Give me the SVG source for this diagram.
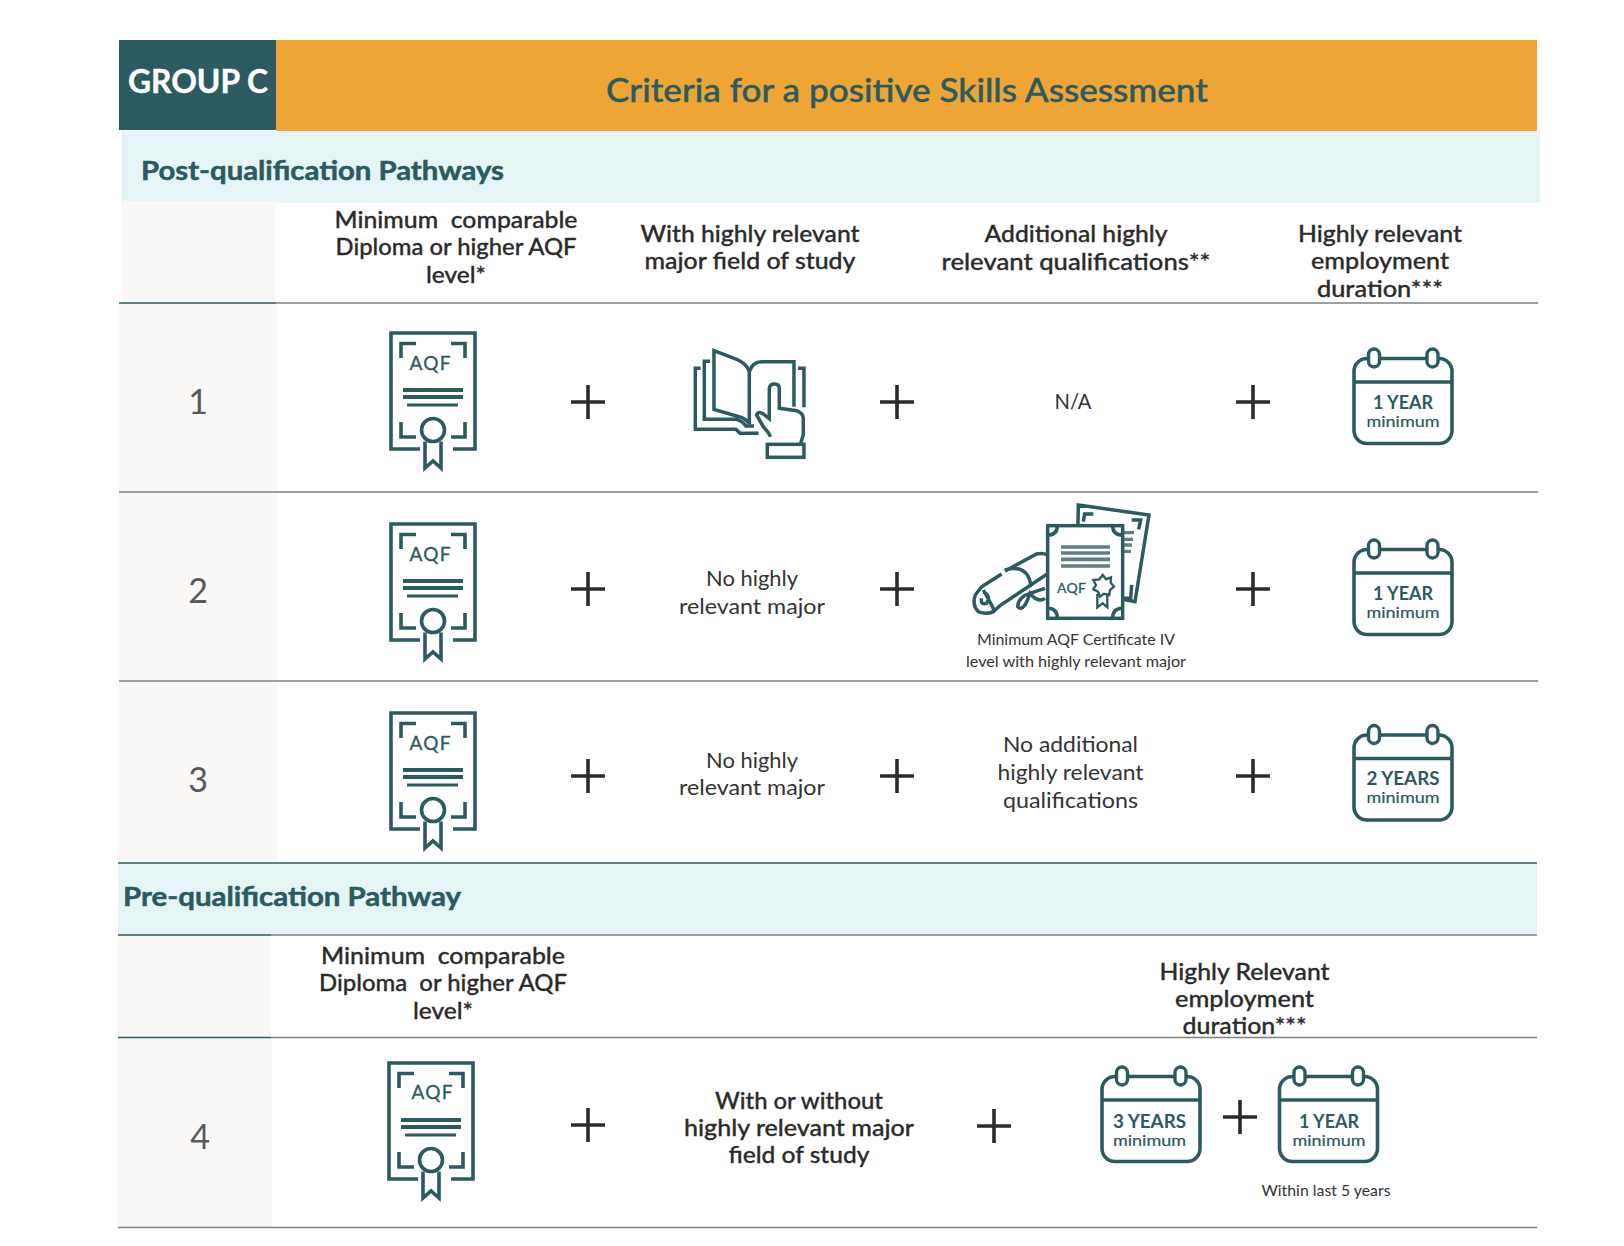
<svg xmlns="http://www.w3.org/2000/svg" width="1624" height="1246" viewBox="0 0 1624 1246">
<style>
text{font-family:"Lato","Open Sans","Liberation Sans",sans-serif;text-anchor:middle}
.l{text-anchor:start}
.sec{font-size:27px;font-weight:700;fill:#2b5a60;stroke:#2b5a60;stroke-width:.5}
.h{font-size:23px;font-weight:500;fill:#2b2b2b;stroke:#2b2b2b;stroke-width:.3}
.b{font-size:21px;fill:#333}
.s{font-size:15px;fill:#333}
.n{font-size:34px;fill:#58595b}
.aqf{font-size:19px;fill:#2b5a60;stroke:#2b5a60;stroke-width:.3}
.y{font-size:19px;font-weight:700;fill:#2b5a60}
.m{font-size:16px;fill:#2b5a60;stroke:#2b5a60;stroke-width:.2}
.ic{fill:none;stroke:#2b5a60;stroke-width:3.6}
.ic3{fill:none;stroke:#2b5a60;stroke-width:10.500}
.cream{fill:#f9f8f7}
.band{fill:#e5f4f5}
.pl{stroke:#2b2b2b;stroke-width:3.6;fill:none}
.gl{stroke:#808080;stroke-width:1.6}
.tl{stroke:#2b5a60;stroke-width:1.6}
</style>
<defs>
<g id="cert">
<path class="ic" d="M31 118H2V2H86V118H64"/>
<path class="ic" d="M27 12.500H12V27M62 12.500H76V27M12 91V106H27M76 91V106H62"/>
<path d="M14 59H74M14 66H74" fill="none" stroke="#2b5a60" stroke-width="4"/>
<path d="M18 74H69" fill="none" stroke="#2b5a60" stroke-width="3"/>
<circle class="ic" cx="44" cy="99" r="11.500"/>
<path class="ic" d="M36 110.500V137L44 130L52 137V110.500"/>
</g>
<g id="cal">
<rect class="ic" x="1354" y="358.500" width="98" height="85" rx="13"/>
<path class="ic" d="M1354 382H1452"/>
<rect x="1368.500" y="349" width="11" height="18" rx="5.500" fill="#fff" stroke="#2b5a60" stroke-width="3.400"/>
<rect x="1427" y="349" width="11" height="18" rx="5.500" fill="#fff" stroke="#2b5a60" stroke-width="3.400"/>
</g>
<path id="plus" class="pl" d="M-17 0H17M0 -17V17"/>
</defs>

<g id="bands">
<rect x="119" y="40" width="157" height="90" fill="#2b5a60"/>
<rect x="276" y="40" width="1261" height="91" fill="#efa536"/>
<rect class="band" x="122" y="131" width="1418" height="72"/>
<rect class="cream" x="121" y="201" width="154" height="102"/>
<rect class="cream" x="119" y="304" width="158" height="187"/>
<rect class="cream" x="119" y="493" width="158" height="187"/>
<rect class="cream" x="119" y="682" width="158" height="180"/>
<rect class="band" x="118" y="864" width="1419" height="71"/>
<rect class="cream" x="118" y="936" width="153" height="101"/>
<rect class="cream" x="118" y="1038" width="154" height="189"/>
</g>
<g id="rules">
<path class="gl" d="M276 303H1538M119 492H1538M119 681H1538M271 935H1537M271 1037.500H1537M118 1227.500H1537"/>
<path class="tl" d="M119 303H276M118 863H1537M118 935H271M118 1037.500H271"/>
</g>

<g id="header">
<text x="198" y="93" font-size="32" font-weight="700" fill="#fff" stroke="#fff" stroke-width=".4" textLength="140" lengthAdjust="spacingAndGlyphs">GROUP C</text>
<text x="907" y="102" font-size="33" font-weight="500" fill="#2b5a60" stroke="#2b5a60" stroke-width=".4" textLength="602" lengthAdjust="spacingAndGlyphs">Criteria for a positive Skills Assessment</text>
</g>
<g id="post-title"><text class="sec l" x="141" y="180" textLength="363" lengthAdjust="spacingAndGlyphs">Post-qualification Pathways</text></g>
<g id="post-headers">
<text class="h" x="456" y="228" textLength="243" lengthAdjust="spacingAndGlyphs" xml:space="preserve">Minimum  comparable</text>
<text class="h" x="456" y="255" textLength="241" lengthAdjust="spacingAndGlyphs">Diploma or higher AQF</text>
<text class="h" x="456" y="283" textLength="60" lengthAdjust="spacingAndGlyphs">level*</text>
<text class="h" x="750" y="242" textLength="219" lengthAdjust="spacingAndGlyphs">With highly relevant</text>
<text class="h" x="750" y="269" textLength="211" lengthAdjust="spacingAndGlyphs">major field of study</text>
<text class="h" x="1076" y="242" textLength="183" lengthAdjust="spacingAndGlyphs">Additional highly</text>
<text class="h" x="1076" y="270" textLength="269" lengthAdjust="spacingAndGlyphs">relevant qualifications**</text>
<text class="h" x="1380" y="242" textLength="164" lengthAdjust="spacingAndGlyphs">Highly relevant</text>
<text class="h" x="1380" y="269" textLength="138" lengthAdjust="spacingAndGlyphs">employment</text>
<text class="h" x="1380" y="297" textLength="126" lengthAdjust="spacingAndGlyphs">duration***</text>
</g>

<g id="row-1">
<text class="n" x="198" y="414">1</text>
<use href="#cert" x="389" y="331"/>
<text class="aqf" x="430" y="370" textLength="41" lengthAdjust="spacing">AQF</text>
<use href="#plus" x="588" y="402"/>
<g transform="translate(360 320) scale(.3333)">
<path class="ic3" d="M1062 92V268L1130 288Q1160 295 1168 312V155Q1160 130 1130 118Z"/>
<path class="ic3" d="M1168 155Q1178 125 1205 125H1302V260"/>
<path class="ic3" d="M1050 124H1033V298H1130Q1150 305 1158 318H1182"/>
<path class="ic3" d="M1022 145H1006V328H1128L1140 340H1196"/>
<path class="ic3" d="M1314 145H1332V262"/>
<path class="ic3" d="M1232 350Q1225 335 1210 320L1190 285Q1195 272 1210 282L1228 296V205Q1230 192 1243 192Q1258 192 1258 205V265L1310 272Q1330 280 1330 295V345L1322 370"/>
<rect class="ic3" x="1222" y="373" width="110" height="39"/>
</g>
<use href="#plus" x="897" y="402"/>
<text class="b" x="1073" y="409" textLength="37" lengthAdjust="spacingAndGlyphs">N/A</text>
<use href="#plus" x="1253" y="402"/>
<use href="#cal"/>
<text class="y" x="1403" y="409" textLength="60" lengthAdjust="spacingAndGlyphs">1 YEAR</text>
<text class="m" x="1403" y="427" textLength="73" lengthAdjust="spacingAndGlyphs">minimum</text>
</g>

<g id="row-2">
<text class="n" x="198" y="603">2</text>
<use href="#cert" x="389" y="522"/>
<text class="aqf" x="430" y="561" textLength="41" lengthAdjust="spacing">AQF</text>
<use href="#plus" x="588" y="589"/>
<text class="b" x="752" y="586" textLength="92" lengthAdjust="spacingAndGlyphs">No highly</text>
<text class="b" x="752" y="614" textLength="146" lengthAdjust="spacingAndGlyphs">relevant major</text>
<use href="#plus" x="897" y="589"/>
<g transform="translate(950 490) scale(.3333)">
<path class="ic3" d="M385 45L597 75L555 335L380 300Z" style="fill:#fff"/>
<path class="ic3" d="M400 95L404 72H430M545 90H572L566 118M520 325H542L545 285"/>
<path d="M520 128H552M520 148H549M520 165H546M520 184H543" fill="none" stroke="#5f7f80" stroke-width="10"/>
<path class="ic3" d="M165 243L260 192Q275 188 295 195M95 290L155 252M95 290L76 315Q65 345 85 365Q110 375 130 365L150 347L295 250"/>
<path class="ic3" d="M100 300L125 345Q135 365 130 365M100 305Q125 320 110 340Q90 345 95 325M165 240Q215 225 235 260Q245 280 240 290"/>
<path class="ic3" d="M285 295L240 310Q205 320 203 350Q220 370 240 310Q265 340 285 325"/>
<rect x="293" y="107" width="225" height="278" fill="#fff" stroke="#2b5a60" stroke-width="10.500"/>
<path class="ic3" d="M293 135Q322 135 322 107M518 135Q488 135 488 107M293 355Q322 355 322 385M518 355Q488 355 488 385"/>
<path d="M333 171H480M333 189H480M333 208H480M333 228H480" fill="none" stroke="#5f7f80" stroke-width="11"/>
<path d="M458 255L468 268L483 262L482 278L492 290L480 300L478 315L462 311L450 320L444 305L430 298L438 285L430 270L448 268Z" class="ic" style="stroke-width:7"/>
<path d="M442 312V352L458 340L472 352V312" class="ic" style="stroke-width:7"/>
</g>
<text class="aqf" x="1071.500" y="593" style="font-size:14px" textLength="29" lengthAdjust="spacing">AQF</text>
<text class="s" x="1076" y="645" textLength="198" lengthAdjust="spacingAndGlyphs">Minimum AQF Certificate IV</text>
<text class="s" x="1076" y="667" textLength="220" lengthAdjust="spacingAndGlyphs">level with highly relevant major</text>
<use href="#plus" x="1253" y="589"/>
<use href="#cal" y="191"/>
<text class="y" x="1403" y="600" textLength="60" lengthAdjust="spacingAndGlyphs">1 YEAR</text>
<text class="m" x="1403" y="618" textLength="73" lengthAdjust="spacingAndGlyphs">minimum</text>
</g>

<g id="row-3">
<text class="n" x="198" y="792">3</text>
<use href="#cert" x="389" y="711"/>
<text class="aqf" x="430" y="750" textLength="41" lengthAdjust="spacing">AQF</text>
<use href="#plus" x="588" y="776"/>
<text class="b" x="752" y="768" textLength="92" lengthAdjust="spacingAndGlyphs">No highly</text>
<text class="b" x="752" y="795" textLength="146" lengthAdjust="spacingAndGlyphs">relevant major</text>
<use href="#plus" x="897" y="776"/>
<text class="b" x="1070.500" y="752" textLength="135" lengthAdjust="spacingAndGlyphs">No additional</text>
<text class="b" x="1070.500" y="780" textLength="146" lengthAdjust="spacingAndGlyphs">highly relevant</text>
<text class="b" x="1070.500" y="808" textLength="135" lengthAdjust="spacingAndGlyphs">qualifications</text>
<use href="#plus" x="1253" y="776"/>
<use href="#cal" y="376.500"/>
<text class="y" x="1403" y="785" textLength="73" lengthAdjust="spacingAndGlyphs">2 YEARS</text>
<text class="m" x="1403" y="803" textLength="73" lengthAdjust="spacingAndGlyphs">minimum</text>
</g>

<g id="pre-title"><text class="sec l" x="123" y="906" textLength="338" lengthAdjust="spacingAndGlyphs">Pre-qualification Pathway</text></g>
<g id="pre-headers">
<text class="h" x="443" y="964" textLength="244" lengthAdjust="spacingAndGlyphs" xml:space="preserve">Minimum  comparable</text>
<text class="h" x="443" y="991" textLength="248" lengthAdjust="spacingAndGlyphs" xml:space="preserve">Diploma  or higher AQF</text>
<text class="h" x="443" y="1019" textLength="60" lengthAdjust="spacingAndGlyphs">level*</text>
<text class="h" x="1244.500" y="980" textLength="170" lengthAdjust="spacingAndGlyphs">Highly Relevant</text>
<text class="h" x="1244.500" y="1007" textLength="139" lengthAdjust="spacingAndGlyphs">employment</text>
<text class="h" x="1244.500" y="1034" textLength="124" lengthAdjust="spacingAndGlyphs">duration***</text>
</g>

<g id="row-4">
<text class="n" x="200" y="1149">4</text>
<use href="#cert" x="387" y="1061"/>
<text class="aqf" x="432" y="1099" textLength="41" lengthAdjust="spacing">AQF</text>
<use href="#plus" x="588" y="1125"/>
<text class="h" x="799" y="1109" textLength="168" lengthAdjust="spacingAndGlyphs">With or without</text>
<text class="h" x="799" y="1136" textLength="230" lengthAdjust="spacingAndGlyphs">highly relevant major</text>
<text class="h" x="799" y="1163" textLength="141" lengthAdjust="spacingAndGlyphs">field of study</text>
<use href="#plus" x="994" y="1126"/>
<use href="#cal" x="-252" y="718"/>
<text class="y" x="1149.500" y="1128" textLength="73" lengthAdjust="spacingAndGlyphs">3 YEARS</text>
<text class="m" x="1149.500" y="1146" textLength="73" lengthAdjust="spacingAndGlyphs">minimum</text>
<use href="#plus" x="1240" y="1117"/>
<use href="#cal" x="-74.500" y="718"/>
<text class="y" x="1329" y="1128" textLength="60" lengthAdjust="spacingAndGlyphs">1 YEAR</text>
<text class="m" x="1329" y="1146" textLength="73" lengthAdjust="spacingAndGlyphs">minimum</text>
<text class="s" x="1326" y="1196" textLength="129" lengthAdjust="spacingAndGlyphs">Within last 5 years</text>
</g>
</svg>
